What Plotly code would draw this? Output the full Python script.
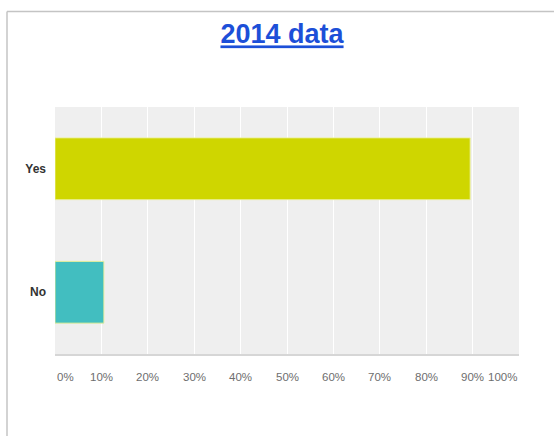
import plotly.graph_objects as go

# Survey answers and their share of responses (%)
categories = ["Yes", "No"]
shares = [89.47, 10.53]
bar_colors = ["#cfd600", "#42bec0"]
tick_values = [0, 10, 20, 30, 40, 50, 60, 70, 80, 90, 100]
tick_labels = [f"{v}%" for v in tick_values]
title_text = "2014 data"

W, H = 554, 436
M = dict(l=55, r=35, t=107, b=82)
plot_w = W - M["l"] - M["r"]
plot_h = H - M["t"] - M["b"]


def px_to_paper(px, py):
    return (px - M["l"]) / plot_w, (H - M["b"] - py) / plot_h


sans = "Liberation Sans, Arial, sans-serif"

fig = go.Figure(
    go.Bar(
        x=shares,
        y=categories,
        orientation="h",
        width=0.5,
        marker=dict(color=bar_colors, line=dict(color="rgba(235,240,150,0.9)", width=1)),
        hoverinfo="skip",
    )
)

# x tick labels: first and last kept inside the plot edges
annotations = []
for v, lab in zip(tick_values, tick_labels):
    anchor = "left" if v == tick_values[0] else ("right" if v == tick_values[-1] else "center")
    annotations.append(
        dict(
            x=v, y=0, xref="x", yref="paper", text=lab, showarrow=False,
            xanchor=anchor, yanchor="middle", yshift=-23,
            font=dict(family=sans, size=11.5, color="#6e6e6e"),
        )
    )

# frame around the chart panel (left and top edges)
x0, y_top = px_to_paper(7, 11.5)
x_right, y_bot = px_to_paper(W + 5, H + 5)
shapes = [
    dict(type="line", xref="paper", yref="paper", x0=x0, x1=x0, y0=y_bot, y1=y_top,
         line=dict(color="#c4c4c4", width=1.5)),
    dict(type="line", xref="paper", yref="paper", x0=x0, x1=x_right, y0=y_top, y1=y_top,
         line=dict(color="#c4c4c4", width=1.5)),
]

fig.update_layout(
    width=W,
    height=H,
    margin=M,
    paper_bgcolor="white",
    plot_bgcolor="#efefef",
    showlegend=False,
    title=dict(
        text=f"<b><u>{title_text}</u></b>",
        x=282 / W,
        xanchor="center",
        xref="container",
        y=1 - 34 / H,
        yanchor="middle",
        yref="container",
        font=dict(family=sans, size=27, color="#1c4fd8"),
    ),
    xaxis=dict(
        range=[0, 100],
        tickvals=tick_values,
        showticklabels=False,
        showgrid=True,
        gridcolor="white",
        gridwidth=1,
        zeroline=False,
        showline=True,
        linecolor="#d6d6d6",
        linewidth=2,
        fixedrange=True,
    ),
    yaxis=dict(
        categoryorder="array",
        categoryarray=categories[::-1],
        showgrid=False,
        zeroline=False,
        showline=False,
        ticks="",
        ticklabelstandoff=8,
        tickfont=dict(family=sans, size=12, color="#333333", weight="bold"),
        fixedrange=True,
    ),
    annotations=annotations,
    shapes=shapes,
)

fig.write_html("out.html", config={"displayModeBar": False})
